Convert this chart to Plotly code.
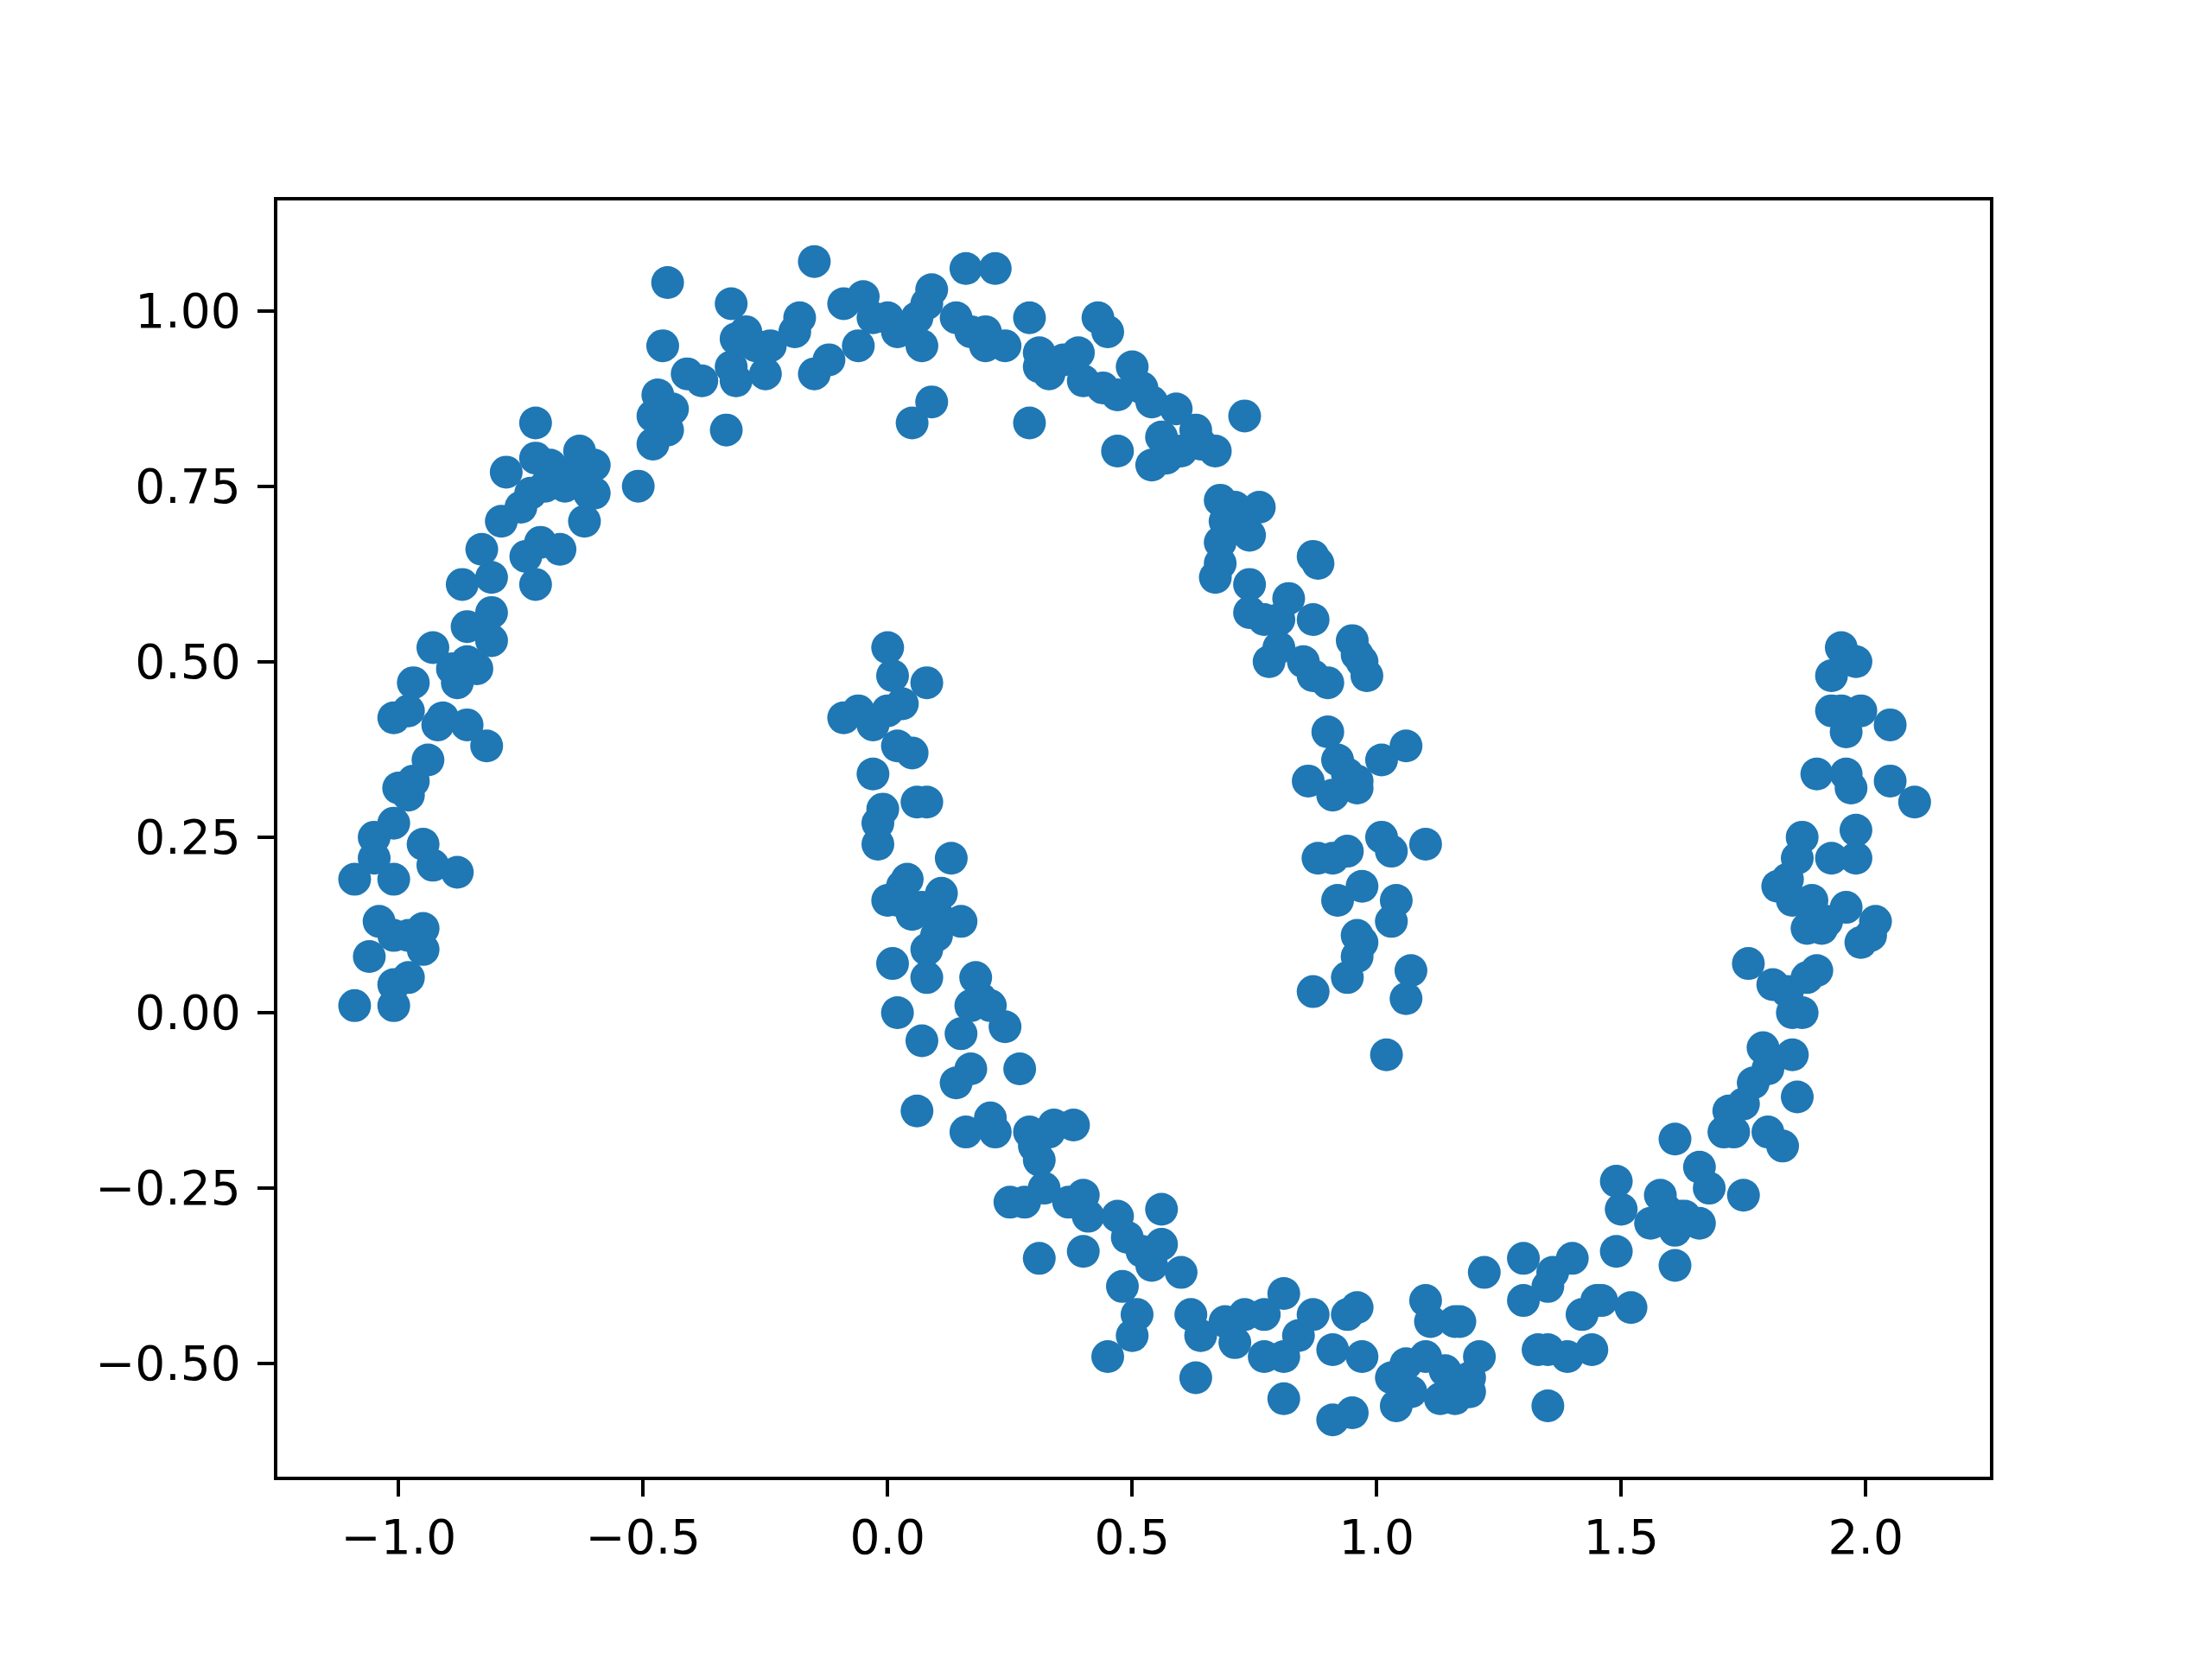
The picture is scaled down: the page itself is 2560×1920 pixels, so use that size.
import plotly.graph_objects as go

# Outer (upper) moon
upper_x = [-1.09,-1.01,-1.01,-0.98,-1.06,-0.95,-0.95,-0.98,-1.01,-1.04,-1.09,-1.01,-1.05,-1.05,-1.01,-0.95,-0.93,-0.88,
           -0.98,-1.00,-0.97,-0.94,-1.01,-0.98,-0.97,-0.92,-0.91,-0.93,-0.89,-0.88,-0.86,-0.82,-0.86,-0.84,-0.86,-0.81,
           -0.81,-0.87,-0.81,-0.83,-0.79,-0.78,-0.74,-0.72,-0.71,-0.75,-0.73,-0.72,-0.72,-0.69,-0.70,-0.67,-0.66,-0.64,
           -0.63,-0.62,-0.61,-0.60,-0.60,-0.51,-0.48,-0.48,-0.47,-0.45,-0.44,-0.46,-0.45,-0.41,-0.38,-0.33,-0.32,-0.32,
           -0.31,-0.29,-0.31,-0.27,-0.25,-0.24,-0.19,-0.18,-0.15,-0.15,-0.12,-0.09,-0.05,-0.06,-0.03,0.00,0.02,0.05,
           0.06,0.07,0.08,0.09,0.09,0.14,0.16,0.17,0.20,0.22,0.20,0.24,0.29,0.29,0.31,0.31,0.33,0.36,0.39,0.40,
           0.43,0.45,0.44,0.47,0.47,0.50,0.52,0.54,0.54,0.56,0.57,0.59,0.60,0.63,0.64,0.67,0.68,0.68,0.67,0.68,
           0.69,0.71,0.72,0.73,0.74,0.76,0.74,0.74,0.77,0.80,0.82,0.78,0.80,0.85,0.87,0.87,0.87,0.88,0.90,0.95,
           0.96,0.97,0.98,0.86,0.90,0.92,0.94,0.91,0.96,0.96,1.01,1.06,0.88,0.91,0.94,0.92,0.97,1.01,1.03,1.10,
           1.04,1.03,0.96,0.97,0.96,0.94,0.87,1.07,1.06,1.02]
upper_y = [0.01,0.01,0.04,0.05,0.08,0.09,0.12,0.11,0.11,0.13,0.19,0.19,0.22,0.25,0.27,0.24,0.21,0.20,
           0.31,0.32,0.33,0.36,0.42,0.43,0.47,0.41,0.42,0.52,0.49,0.47,0.41,0.38,0.50,0.49,0.55,0.53,
           0.57,0.61,0.62,0.66,0.70,0.77,0.65,0.61,0.67,0.72,0.74,0.84,0.79,0.78,0.75,0.66,0.75,0.77,
           0.80,0.70,0.74,0.78,0.74,0.75,0.85,0.81,0.88,0.83,0.86,0.95,1.04,0.91,0.90,0.83,1.01,0.92,
           0.90,0.97,0.96,0.95,0.91,0.95,0.97,0.99,1.07,0.91,0.93,1.01,1.02,0.95,0.99,0.99,0.97,0.84,
           0.99,0.95,1.01,1.03,0.87,0.99,1.06,0.97,0.95,1.06,0.97,0.95,0.99,0.84,0.94,0.92,0.91,0.93,0.94,0.90,
           0.99,0.97,0.89,0.88,0.80,0.92,0.89,0.87,0.78,0.82,0.79,0.86,0.80,0.83,0.81,0.80,0.73,0.67,0.62,0.64,
           0.70,0.72,0.70,0.85,0.68,0.72,0.61,0.57,0.56,0.56,0.59,0.50,0.52,0.50,0.48,0.56,0.65,0.64,0.47,0.53,
           0.51,0.50,0.48,0.33,0.40,0.36,0.34,0.31,0.33,0.32,0.36,0.38,0.22,0.22,0.23,0.16,0.18,0.25,0.23,0.24,
           0.16,0.13,0.11,0.10,0.08,0.05,0.03,0.06,0.02,-0.06]

# Inner (lower) moon
lower_x = [-0.09,-0.06,-0.03,0.00,0.01,0.00,0.03,0.08,-0.03,0.02,0.05,0.06,0.08,-0.01,-0.02,-0.02,0.00,0.04,0.03,0.05,
           0.02,0.07,0.10,0.11,0.13,0.15,0.10,0.08,0.01,0.02,0.08,0.07,0.06,0.18,0.17,0.19,0.21,0.24,0.15,0.17,
           0.14,0.27,0.16,0.21,0.22,0.29,0.33,0.30,0.31,0.34,0.38,0.32,0.25,0.28,0.37,0.40,0.41,0.40,0.31,0.47,
           0.49,0.52,0.54,0.56,0.56,0.60,0.48,0.51,0.50,0.45,0.62,0.64,0.63,0.69,0.71,0.73,0.77,0.77,0.81,0.81,
           0.81,0.84,0.87,0.91,0.91,0.95,0.94,0.96,0.97,1.04,1.03,1.06,1.07,1.10,1.10,1.11,1.13,1.14,1.16,1.16,
           1.17,1.19,1.19,1.21,1.22,1.30,1.30,1.33,1.35,1.35,1.36,1.35,1.39,1.40,1.42,1.44,1.45,1.46,1.49,1.50,
           1.49,1.52,1.56,1.58,1.59,1.61,1.61,1.61,1.62,1.63,1.66,1.66,1.68,1.71,1.72,1.73,1.75,1.75,1.76,1.77,
           1.79,1.80,1.80,1.83,1.81,1.82,1.84,1.85,1.85,1.86,1.87,1.88,1.90,1.88,1.85,1.84,1.87,1.86,1.89,1.92,
           1.91,1.93,1.96,1.98,1.98,1.99,2.01,2.02,1.90,1.96,1.97,1.93,1.95,1.96,1.99,2.05,1.93,1.95,1.98,2.05,2.10]
lower_y = [0.42,0.43,0.41,0.52,0.48,0.43,0.44,0.47,0.34,0.38,0.37,0.30,0.30,0.29,0.27,0.24,0.16,0.19,0.18,0.14,
           0.16,0.15,0.14,0.17,0.22,0.13,0.11,0.09,0.07,0.00,0.05,-0.04,-0.14,0.05,0.01,0.02,0.01,-0.02,-0.03,-0.08,
           -0.10,-0.08,-0.17,-0.15,-0.17,-0.17,-0.17,-0.19,-0.21,-0.16,-0.16,-0.25,-0.27,-0.27,-0.27,-0.26,-0.29,-0.34,-0.35,-0.29,
           -0.32,-0.34,-0.36,-0.33,-0.28,-0.37,-0.39,-0.43,-0.46,-0.49,-0.43,-0.46,-0.52,-0.44,-0.47,-0.43,-0.43,-0.49,-0.49,-0.40,
           -0.55,-0.46,-0.43,-0.58,-0.48,-0.57,-0.43,-0.42,-0.49,-0.56,-0.52,-0.50,-0.54,-0.49,-0.41,-0.44,-0.55,-0.51,-0.55,-0.44,
           -0.44,-0.54,-0.52,-0.49,-0.37,-0.35,-0.41,-0.48,-0.56,-0.39,-0.37,-0.48,-0.49,-0.35,-0.43,-0.48,-0.41,-0.41,-0.24,-0.28,
           -0.34,-0.42,-0.30,-0.26,-0.28,-0.18,-0.31,-0.36,-0.29,-0.29,-0.22,-0.30,-0.25,-0.17,-0.14,-0.17,-0.13,-0.26,0.07,-0.10,
           -0.05,-0.17,-0.08,-0.19,0.04,0.18,0.03,0.00,-0.06,-0.12,0.00,0.05,0.06,0.12,0.16,0.19,0.25,0.22,0.16,0.13,
           0.12,0.22,0.15,0.26,0.22,0.10,0.11,0.13,0.34,0.34,0.32,0.43,0.43,0.40,0.43,0.41,0.48,0.52,0.50,0.33,0.30]

x_tick_vals = [-1.0, -0.5, 0.0, 0.5, 1.0, 1.5, 2.0]
x_tick_text = ["\u22121.0", "\u22120.5", "0.0", "0.5", "1.0", "1.5", "2.0"]
y_tick_vals = [-0.50, -0.25, 0.00, 0.25, 0.50, 0.75, 1.00]
y_tick_text = ["\u22120.50", "\u22120.25", "0.00", "0.25", "0.50", "0.75", "1.00"]

color = "#1f77b4"
fig = go.Figure()
fig.add_trace(go.Scatter(x=upper_x + lower_x, y=upper_y + lower_y, mode="markers",
                         marker=dict(color=color, size=38, line=dict(width=0)),
                         showlegend=False))

axis_common = dict(showgrid=False, zeroline=False, showline=True, linecolor="black", linewidth=4.4,
                   mirror=True, ticks="outside", ticklen=19, tickwidth=4.4, tickcolor="black",
                   tickfont=dict(family="DejaVu Sans", size=55, color="black"))

fig.update_layout(
    width=2560, height=1920,
    margin=dict(l=313, r=265, t=224, b=219, pad=0),
    paper_bgcolor="white", plot_bgcolor="white",
    xaxis=dict(range=[-1.248, 2.254], tickvals=x_tick_vals, ticktext=x_tick_text,
               ticklabelstandoff=0, **axis_common),
    yaxis=dict(range=[-0.661, 1.157], tickvals=y_tick_vals, ticktext=y_tick_text,
               ticklabelstandoff=8, **axis_common),
)

fig.write_html("out.html")
